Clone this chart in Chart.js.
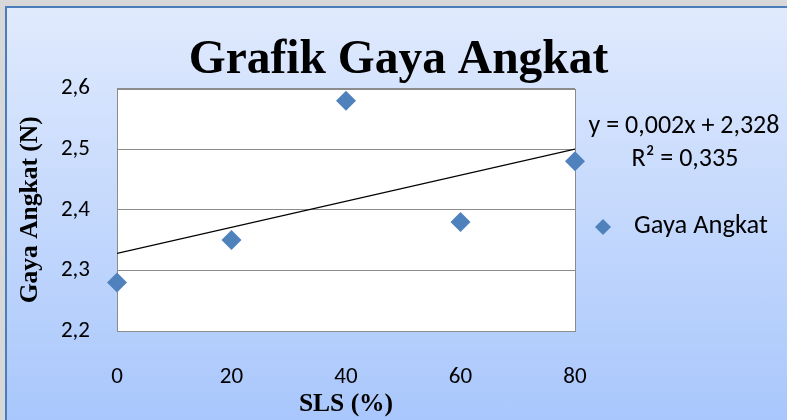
<!DOCTYPE html>
<html>
<head>
<meta charset="utf-8">
<title>Grafik Gaya Angkat</title>
<script src="https://cdn.jsdelivr.net/npm/chart.js@4.4.0/dist/chart.umd.min.js"></script>
<style>
    html, body { margin: 0; padding: 0; width: 787px; height: 420px; overflow: hidden; background: #d8d8d8; }
    #frame {
        position: absolute; left: 5px; top: 6px; right: 0; bottom: 0;
        border-left: 2px solid #4a7ebb; border-top: 2px solid #4a7ebb;
        background: linear-gradient(#e0eafd, #a9c7fc);
    }
    #chartGaya { position: absolute; left: 0; top: 0; }
</style>
</head>
<body>
<div id="frame"></div>
<canvas id="chartGaya" width="787" height="420"></canvas>
<script>
// data
var slsPercent = [0, 20, 40, 60, 80];
var gayaAngkat = [2.28, 2.35, 2.58, 2.38, 2.48];
var xTicks = [0, 20, 40, 60, 80];
var yTicks = [2.2, 2.3, 2.4, 2.5, 2.6];
var trendText = ['y = 0,002x + 2,328', 'R\u00B2 = 0,335'];

var blue = '#4f81bd';
var sansFont = 'Carlito, Lato, sans-serif';
var serifFont = '"Liberation Serif", "Times New Roman", serif';

// linear trend (least squares) from the points
var n = slsPercent.length;
var mx = slsPercent.reduce(function (a, b) { return a + b; }, 0) / n;
var my = gayaAngkat.reduce(function (a, b) { return a + b; }, 0) / n;
var sxy = 0, sxx = 0;
for (var i = 0; i < n; i++) {
    sxy += (slsPercent[i] - mx) * (gayaAngkat[i] - my);
    sxx += (slsPercent[i] - mx) * (slsPercent[i] - mx);
}
var slope = sxy / sxx;
var intercept = my - slope * mx;
var xMin = xTicks[0], xMax = xTicks[xTicks.length - 1];
var trendPoints = [
    { x: xMin, y: intercept + slope * xMin },
    { x: xMax, y: intercept + slope * xMax }
];

const plotArea = {
    id: 'plotArea',
    beforeDraw(chart) {
        const { ctx, chartArea: a } = chart;
        ctx.save();
        ctx.fillStyle = '#ffffff';
        ctx.fillRect(a.left, a.top, a.width, a.height);
        ctx.restore();
    },
    beforeDatasetsDraw(chart) {
        const { ctx, chartArea: a } = chart;
        ctx.save();
        ctx.strokeStyle = '#8c8c8c';
        ctx.lineWidth = 1;
        ctx.strokeRect(Math.round(a.left) + 0.5, Math.round(a.top) + 0.5, Math.round(a.width), Math.round(a.height));
        ctx.restore();
    },
    afterDraw(chart) {
        const { ctx, chartArea: a } = chart;
        const ds = chart.data.datasets[0];
        ctx.save();
        ctx.fillStyle = '#000000';
        ctx.textAlign = 'center';
        ctx.textBaseline = 'middle';
        ctx.font = '26px ' + sansFont;
        ctx.fillText(trendText[0], a.right + 109, 126);
        ctx.fillText(trendText[1], a.right + 110, 159);

        // legend
        var lx = a.right + 28, ly = 227, r = 8;
        ctx.fillStyle = ds.backgroundColor;
        ctx.beginPath();
        ctx.moveTo(lx, ly - r);
        ctx.lineTo(lx + r, ly);
        ctx.lineTo(lx, ly + r);
        ctx.lineTo(lx - r, ly);
        ctx.closePath();
        ctx.fill();
        ctx.fillStyle = '#000000';
        ctx.textAlign = 'left';
        ctx.font = '26.5px ' + sansFont;
        ctx.fillText(ds.label, a.right + 59, 226);
        ctx.restore();
    }
};

new Chart(document.getElementById('chartGaya'), {
    type: 'scatter',
    data: {
        datasets: [
            {
                label: 'Gaya Angkat',
                data: slsPercent.map(function (x, i) { return { x: x, y: gayaAngkat[i] }; }),
                pointStyle: 'rectRot',
                pointRadius: 10,
                pointHoverRadius: 10,
                backgroundColor: blue,
                borderColor: blue,
                borderWidth: 0,
                clip: false
            },
            {
                type: 'line',
                label: 'Linear (Gaya Angkat)',
                data: trendPoints,
                borderColor: '#000000',
                borderWidth: 1.3,
                pointRadius: 0,
                fill: false
            }
        ]
    },
    options: {
        responsive: false,
        animation: false,
        layout: { padding: { left: 10, right: 0, top: 0, bottom: 0 } },
        plugins: {
            legend: { display: false },
            tooltip: { enabled: false },
            title: {
                display: true,
                text: 'Grafik Gaya Angkat',
                color: '#000000',
                font: { family: serifFont, size: 47.5, weight: 'bold', lineHeight: 1.1 },
                padding: { top: 35, bottom: 1.3 }
            }
        },
        scales: {
            x: {
                type: 'linear',
                min: xMin,
                max: xMax,
                afterBuildTicks: function (scale) { scale.ticks = xTicks.map(function (v) { return { value: v }; }); },
                afterFit: function (scale) { scale.height = 89; },
                grid: { display: false, drawTicks: false },
                border: { display: false },
                ticks: {
                    padding: 32,
                    color: '#000000',
                    font: { family: sansFont, size: 23 }
                },
                title: {
                    display: true,
                    text: 'SLS (%)',
                    color: '#000000',
                    font: { family: serifFont, size: 25.5, weight: 'bold' },
                    padding: { top: 0, bottom: 0 }
                }
            },
            y: {
                min: yTicks[0],
                max: yTicks[yTicks.length - 1],
                afterBuildTicks: function (scale) { scale.ticks = yTicks.map(function (v) { return { value: v }; }); },
                afterFit: function (scale) { scale.width = 107; },
                grid: { color: '#8c8c8c', lineWidth: 1, drawTicks: false },
                border: { display: false },
                ticks: {
                    padding: 27,
                    color: '#000000',
                    font: { family: sansFont, size: 23 },
                    callback: function (v) { return v.toFixed(1).replace('.', ','); }
                },
                title: {
                    display: true,
                    text: 'Gaya Angkat (N)',
                    color: '#000000',
                    font: { family: serifFont, size: 25.5, weight: 'bold' },
                    padding: { top: 5, bottom: 0 }
                }
            },
            // empty right-hand axis that keeps room for the trend label and legend
            side: {
                position: 'right',
                display: true,
                afterFit: function (scale) { scale.width = 212; },
                grid: { display: false, drawTicks: false },
                border: { display: false },
                ticks: { display: false }
            }
        }
    },
    plugins: [plotArea]
});
</script>
</body>
</html>
